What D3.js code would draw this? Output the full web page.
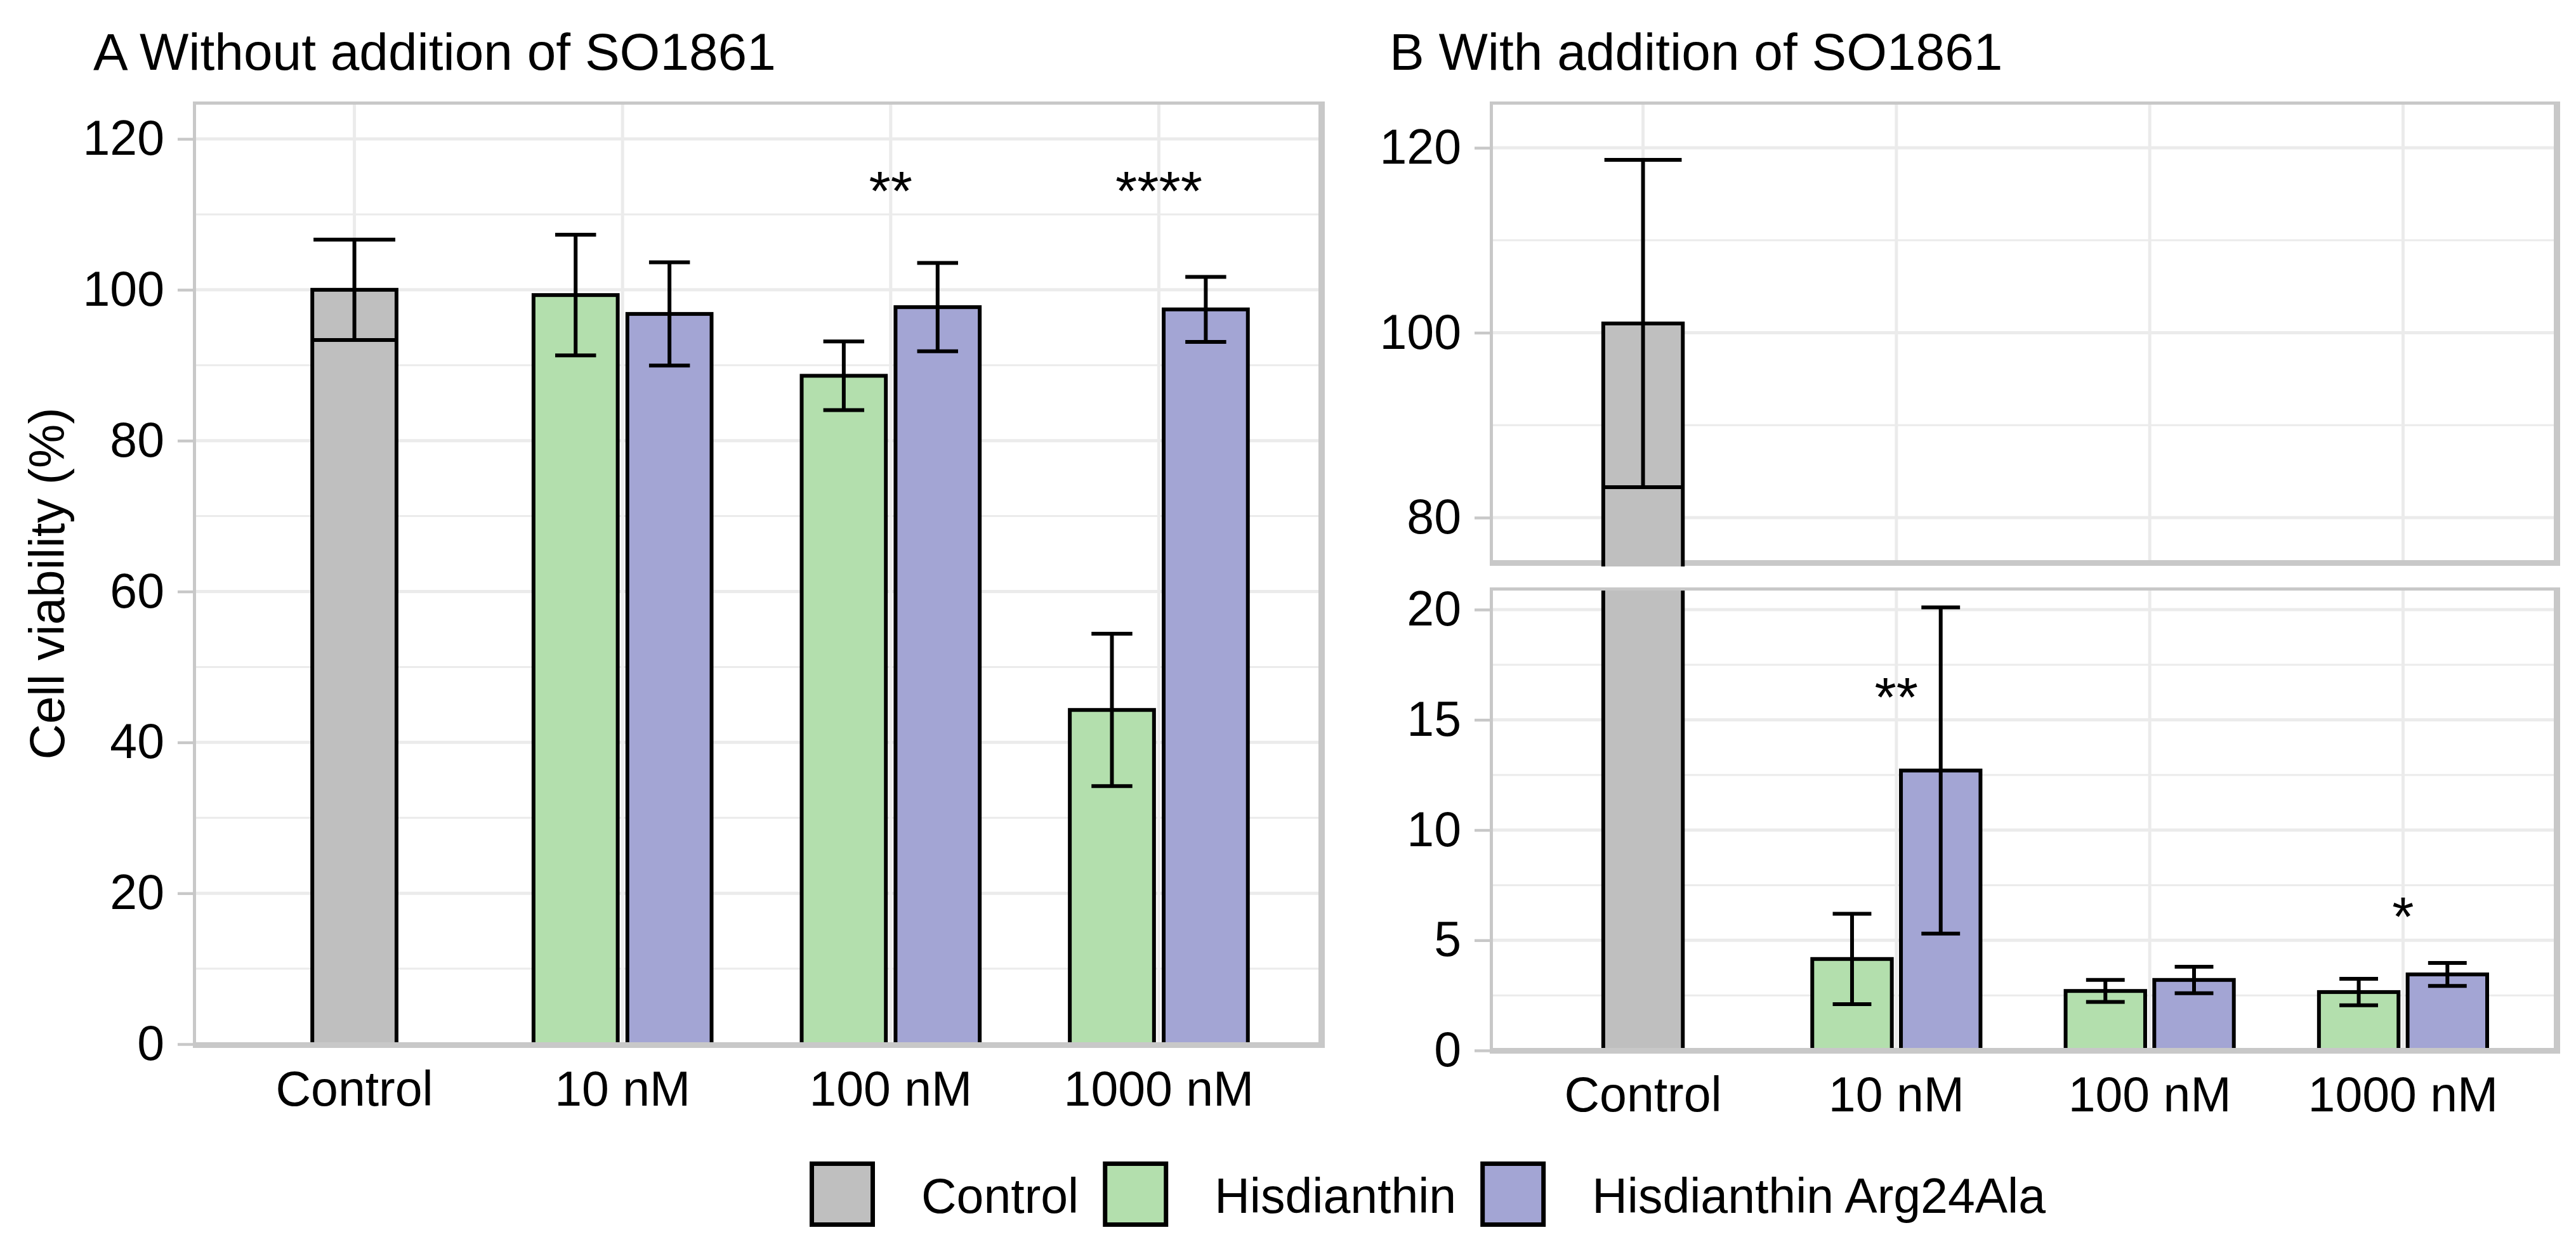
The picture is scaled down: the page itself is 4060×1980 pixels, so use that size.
<!DOCTYPE html>
<html>
<head>
<meta charset="utf-8">
<script src="https://cdn.jsdelivr.net/npm/d3@7"></script>
<style>
  body { margin: 0; background: #fff; }
  text { font-family: "Liberation Sans", Arial, sans-serif; fill: #000; }
</style>
</head>
<body>
<svg id="chart"></svg>
<script>
var categories = ['Control', '10 nM', '100 nM', '1000 nM'];
var groups = ['Control', 'Hisdianthin', 'Hisdianthin Arg24Ala'];
var groupColors = ['#bfbfbf', '#b3dfad', '#a3a5d4'];

// A: without SO1861 (treatments are 10, 100, 1000 nM)
var controlMeanA = [100.0];
var controlSdA = [6.65];
var hisMeanA = [99.3, 88.6, 44.3];
var hisSdA = [8.0, 4.55, 10.1];
var argMeanA = [96.8, 97.7, 97.4];
var argSdA = [6.85, 5.85, 4.3];
var starsA = [['100 nM', '**', 114.5], ['1000 nM', '****', 114.5]];

// B: with SO1861
var controlMeanB = [101.0];
var controlSdB = [17.7];
var hisMeanB = [4.15, 2.7, 2.65];
var hisSdB = [2.05, 0.5, 0.6];
var argMeanB = [12.7, 3.2, 3.45];
var argSdB = [7.4, 0.6, 0.52];
var starsB = [['10 nM', '**', 16.5], ['1000 nM', '*', 6.55]];

var ticksA = [0, 20, 40, 60, 80, 100, 120];
var minorA = [10, 30, 50, 70, 90, 110];
var ticksBUpper = [80, 100, 120];
var minorBUpper = [90, 110];
var ticksBLower = [0, 5, 10, 15, 20];
var minorBLower = [2.5, 7.5, 12.5, 17.5];

var W = 4060, H = 1980;
var svg = d3.select('#chart').attr('width', W).attr('height', H);
svg.append('rect').attr('width', W).attr('height', H).attr('fill', '#fff');

var gridColor = '#ebebeb';
var borderColor = '#c8c8c8';
var fontSize = 77;
var starSize = 88;

function toRows(cMean, cSd, hMean, hSd, aMean, aSd) {
  var rows = [{ cat: categories[0], group: 0, mean: cMean[0], sd: cSd[0], slot: 0, n: 1 }];
  categories.slice(1).forEach(function (cat, i) {
    rows.push({ cat: cat, group: 1, mean: hMean[i], sd: hSd[i], slot: 0, n: 2 });
    rows.push({ cat: cat, group: 2, mean: aMean[i], sd: aSd[i], slot: 1, n: 2 });
  });
  return rows;
}

var rowsA = toRows(controlMeanA, controlSdA, hisMeanA, hisSdA, argMeanA, argSdA);
var rowsB = toRows(controlMeanB, controlSdB, hisMeanB, hisSdB, argMeanB, argSdB);

var clipId = 0;

function drawPanel(p) {
  var g = svg.append('g');
  var x = p.x, y = p.y;
  var step = x.step();
  var barW = step * 0.314;
  var id = 'clip' + (clipId++);

  g.append('clipPath').attr('id', id)
    .append('rect')
    .attr('x', p.left).attr('y', p.top)
    .attr('width', p.right - p.left)
    .attr('height', p.bottom - p.top + (p.overshoot || 0));

  var grid = g.append('g').attr('clip-path', 'url(#' + id + ')');
  grid.selectAll('.minor').data(p.minor).enter().append('line')
    .attr('x1', p.left).attr('x2', p.right)
    .attr('y1', function (d) { return y(d); }).attr('y2', function (d) { return y(d); })
    .attr('stroke', gridColor).attr('stroke-width', 3);
  grid.selectAll('.major').data(p.ticks).enter().append('line')
    .attr('x1', p.left).attr('x2', p.right)
    .attr('y1', function (d) { return y(d); }).attr('y2', function (d) { return y(d); })
    .attr('stroke', gridColor).attr('stroke-width', 5);
  grid.selectAll('.vgrid').data(categories).enter().append('line')
    .attr('x1', function (d) { return x(d); }).attr('x2', function (d) { return x(d); })
    .attr('y1', p.top).attr('y2', p.bottom)
    .attr('stroke', gridColor).attr('stroke-width', 5);

  // panel border, heavier on bottom and right as in the original
  var b = g.append('g').attr('fill', borderColor);
  b.append('rect').attr('x', p.left - 5).attr('y', p.top - 5).attr('width', p.right - p.left + 15).attr('height', 5);
  b.append('rect').attr('x', p.left - 5).attr('y', p.top - 5).attr('width', 5).attr('height', p.bottom - p.top + 14);
  b.append('rect').attr('x', p.right).attr('y', p.top - 5).attr('width', 10).attr('height', p.bottom - p.top + 14);
  b.append('rect').attr('x', p.left - 5).attr('y', p.bottom).attr('width', p.right - p.left + 15).attr('height', 9);

  function cx(d) {
    if (d.n === 1) return x(d.cat);
    return x(d.cat) + (d.slot - 0.5) * 0.35 * step;
  }

  var marks = g.append('g').attr('clip-path', 'url(#' + id + ')');
  marks.selectAll('.bar').data(p.rows).enter().append('rect')
    .attr('x', function (d) { return cx(d) - barW / 2; })
    .attr('y', function (d) { return Math.min(y(d.mean), y(0)); })
    .attr('width', barW)
    .attr('height', function (d) { return Math.abs(y(0) - y(d.mean)); })
    .attr('fill', function (d) { return groupColors[d.group]; })
    .attr('stroke', '#000').attr('stroke-width', 6);

  var eb = marks.selectAll('.err').data(p.rows).enter().append('g')
    .attr('stroke', '#000').attr('stroke-width', 6).attr('fill', 'none');
  eb.append('line')
    .attr('x1', cx).attr('x2', cx)
    .attr('y1', function (d) { return y(d.mean - d.sd); })
    .attr('y2', function (d) { return y(d.mean + d.sd); });
  [-1, 1].forEach(function (s) {
    eb.append('line')
      .attr('x1', function (d) { return cx(d) - step * 0.305 / d.n / 2; })
      .attr('x2', function (d) { return cx(d) + step * 0.305 / d.n / 2; })
      .attr('y1', function (d) { return y(d.mean + s * d.sd); })
      .attr('y2', function (d) { return y(d.mean + s * d.sd); });
  });

  marks.selectAll('.star').data(p.stars).enter().append('text')
    .attr('x', function (d) { return x(d[0]); })
    .attr('y', function (d) { return y(d[2]) + 0.53 * starSize; })
    .attr('text-anchor', 'middle')
    .attr('font-size', starSize)
    .text(function (d) { return d[1]; });

  var axis = g.append('g')
    .attr('transform', 'translate(' + (p.left - 3) + ',0)')
    .call(d3.axisLeft(y).tickValues(p.ticks).tickSize(26).tickPadding(21).tickFormat(d3.format('d')));
  axis.select('.domain').remove();
  axis.selectAll('line').attr('stroke', borderColor).attr('stroke-width', 4.5);
  axis.selectAll('text').attr('font-size', fontSize).attr('font-family', '"Liberation Sans", Arial, sans-serif').attr('fill', '#000');

  if (p.xLabelY) {
    g.selectAll('.xlab').data(categories).enter().append('text')
      .attr('x', function (d) { return x(d); })
      .attr('y', p.xLabelY)
      .attr('text-anchor', 'middle')
      .attr('font-size', fontSize)
      .text(function (d) { return d; });
  }
}

// A
var xA = d3.scalePoint().domain(categories).range([305, 2080]).padding(0.6);
var yA = d3.scaleLinear().domain([0, 120]).range([1646, 219]);
drawPanel({ x: xA, y: yA, left: 309, right: 2078, top: 165, bottom: 1643,
  ticks: ticksA, minor: minorA, rows: rowsA, stars: starsA, xLabelY: 1743 });

// B, split axis
var xB = d3.scalePoint().domain(categories).range([2350, 4027]).padding(0.6);
var yBUpper = d3.scaleLinear().domain([80, 120]).range([816, 233]);
var yBLower = d3.scaleLinear().domain([0, 20]).range([1656, 961]);
drawPanel({ x: xB, y: yBUpper, left: 2353, right: 4025, top: 165, bottom: 883, overshoot: 10,
  ticks: ticksBUpper, minor: minorBUpper, rows: rowsB, stars: [], xLabelY: null });
drawPanel({ x: xB, y: yBLower, left: 2353, right: 4025, top: 931, bottom: 1652,
  ticks: ticksBLower, minor: minorBLower, rows: rowsB, stars: starsB, xLabelY: 1752 });

// titles
svg.append('text').attr('x', 147).attr('y', 110).attr('font-size', 82).text('A Without addition of SO1861');
svg.append('text').attr('x', 2190).attr('y', 110).attr('font-size', 82).text('B With addition of SO1861');

svg.append('text')
  .attr('transform', 'translate(101,920) rotate(-90)')
  .attr('text-anchor', 'middle')
  .attr('font-size', 78)
  .text('Cell viability (%)');

// legend
var legend = svg.append('g');
var lx = 1276;
groups.forEach(function (name, i) {
  legend.append('rect')
    .attr('x', lx + 3.5).attr('y', 1834.5).attr('width', 96).attr('height', 96)
    .attr('fill', groupColors[i]).attr('stroke', '#000').attr('stroke-width', 7);
  var t = legend.append('text')
    .attr('x', lx + 176).attr('y', 1912)
    .attr('font-size', fontSize)
    .text(name);
  lx = lx + 176 + t.node().getComputedTextLength() + 38;
});
</script>
</body>
</html>
